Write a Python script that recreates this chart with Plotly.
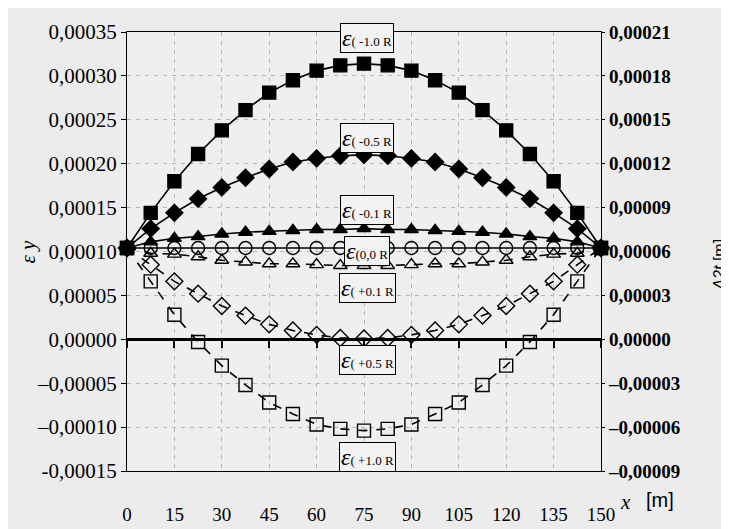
import plotly.graph_objects as go

# ---------------- data (strain values in units of 1e-5) ----------------
x_m = [0, 7.5, 15, 22.5, 30, 37.5, 45, 52.5, 60, 67.5, 75,
       82.5, 90, 97.5, 105, 112.5, 120, 127.5, 135, 142.5, 150]

eps_m10 = [10.4, 14.4, 18.0, 21.1, 23.8, 26.1, 28.1, 29.5, 30.6, 31.2, 31.4,
           31.2, 30.6, 29.5, 28.1, 26.1, 23.8, 21.1, 18.0, 14.4, 10.4]
eps_m05 = [10.4, 12.6, 14.4, 16.0, 17.3, 18.4, 19.4, 20.2, 20.6, 20.9, 21.0,
           20.9, 20.6, 20.2, 19.4, 18.4, 17.3, 16.0, 14.4, 12.6, 10.4]
eps_m01 = [10.4, 11.1, 11.5, 11.7, 12.0, 12.2, 12.3, 12.4, 12.5, 12.5, 12.6,
           12.5, 12.5, 12.4, 12.3, 12.2, 12.0, 11.7, 11.5, 11.1, 10.4]
eps_00 = [10.4, 10.4, 10.4, 10.4, 10.4, 10.4, 10.4, 10.4, 10.4, 10.4, 10.4,
          10.4, 10.4, 10.4, 10.4, 10.4, 10.4, 10.4, 10.4, 10.4, 10.4]
eps_p01 = [10.4, 9.8, 9.7, 9.4, 9.0, 8.8, 8.6, 8.6, 8.5, 8.4, 8.4,
           8.4, 8.5, 8.6, 8.6, 8.8, 9.0, 9.4, 9.7, 9.8, 10.4]
eps_p05 = [10.4, 8.5, 6.6, 5.2, 3.8, 2.7, 1.7, 1.0, 0.5, 0.15, 0.1,
           0.15, 0.5, 1.0, 1.7, 2.7, 3.8, 5.2, 6.6, 8.5, 10.4]
eps_p10 = [10.4, 6.6, 2.8, -0.3, -3.0, -5.2, -7.2, -8.5, -9.7, -10.2, -10.4,
           -10.2, -9.7, -8.5, -7.2, -5.2, -3.0, -0.3, 2.8, 6.6, 10.4]

series_names = ["( -1.0 R", "( -0.5 R", "( -0.1 R", "(0,0 R", "( +0.1 R", "( +0.5 R", "( +1.0 R"]
label_y = [34.3, 22.9, 14.7, 10.1, 5.9, -2.4, -13.4]   # label box centres (1e-5)
label_x = 76

x_ticks = [0, 15, 30, 45, 60, 75, 90, 105, 120, 135, 150]
x_ticktext = ["0", "15", "30", "45", "60", "75", "90", "105", "120", "135", "150"]

y_ticks = [-0.00015, -0.00010, -0.00005, 0.0, 0.00005, 0.00010, 0.00015, 0.00020, 0.00025, 0.00030, 0.00035]
y_ticktext = ["-0,00015", "\u20130,00010", "\u20130,00005", "0,00000", "0,00005", "0,00010",
              "0,00015", "0,00020", "0,00025", "0,00030", "0,00035"]

y2_ticks = [-0.00009, -0.00006, -0.00003, 0.0, 0.00003, 0.00006, 0.00009, 0.00012, 0.00015, 0.00018, 0.00021]
y2_ticktext = ["\u20130,00009", "\u20130,00006", "\u20130,00003", "0,00000", "0,00003", "0,00006",
               "0,00009", "0,00012", "0,00015", "0,00018", "0,00021"]

SCALE = 1e-5


def sc(v):
    return [a * SCALE for a in v]


fig = go.Figure()

BLACK = "black"
SERIF = "Liberation Serif"


def add(vals, symbol, dash, size, xaxis="x"):
    fig.add_trace(go.Scatter(
        x=x_m, y=sc(vals), mode="lines+markers", xaxis=xaxis, yaxis="y",
        line=dict(color=BLACK, width=1.6, dash=dash),
        marker=dict(symbol=symbol, size=size, color=BLACK, line=dict(color=BLACK, width=1.4)),
        showlegend=False, cliponaxis=False, hoverinfo="skip"))


# dashed series first
add(eps_p10, "square-open", "dash", 13)
add(eps_p05, "diamond-open", "dash", 13, xaxis="x2")
add(eps_p01, "triangle-up-open", "dash", 12)
add(eps_00, "circle-open", "solid", 13)
add(eps_m01, "triangle-up", "solid", 12)
add(eps_m05, "diamond", "solid", 13)
add(eps_m10, "square", "solid", 13)

# empty trace so that the right-hand (Delta 2t) axis is drawn
fig.add_trace(go.Scatter(x=[], y=[], xaxis="x", yaxis="y2", showlegend=False,
                         hoverinfo="skip"))

GRID = "#b5b5b5"

fig.update_layout(
    width=729, height=529,
    margin=dict(l=119, r=136, t=16, b=43),
    paper_bgcolor="#ececec", plot_bgcolor="#efefef",
    showlegend=False,
    xaxis=dict(range=[0, 150], tickvals=x_ticks, ticktext=x_ticktext,
               showline=True, mirror=True, linecolor=BLACK, linewidth=1.3,
               ticks="", showgrid=True, gridcolor=GRID, griddash="4px,5px", gridwidth=1,
               zeroline=False, ticklabelstandoff=26,
               tickfont=dict(family=SERIF, size=19, color=BLACK)),
    xaxis2=dict(range=[0, 150], tickvals=x_ticks, overlaying="x", anchor="free",
                position=0.3, showticklabels=False, ticks="outside", ticklen=7,
                tickwidth=2, tickcolor=BLACK, showline=True, linewidth=2.5,
                linecolor=BLACK, showgrid=False, zeroline=False),
    yaxis=dict(range=[-0.00015, 0.00035], tickvals=y_ticks, ticktext=y_ticktext,
               showline=True, linecolor=BLACK, linewidth=1.3, ticks="outside",
               ticklen=5, tickcolor=BLACK, showgrid=True, gridcolor=GRID,
               griddash="4px,5px", gridwidth=1, zeroline=False,
               tickfont=dict(family=SERIF, size=21, color=BLACK)),
    yaxis2=dict(range=[-0.00009, 0.00021], tickvals=y2_ticks, ticktext=y2_ticktext,
                overlaying="y", side="right", anchor="x", showline=True, linecolor=BLACK,
                linewidth=1.3, ticks="outside", ticklen=3, tickcolor=BLACK,
                showgrid=False, zeroline=False,
                tickfont=dict(family=SERIF, size=19, color=BLACK, weight="bold")),
)

for name, ly in zip(series_names, label_y):
    fig.add_annotation(
        x=label_x, y=ly * SCALE, xref="x", yref="y", showarrow=False,
        xanchor="center", yanchor="middle",
        text="<span style='font-size:24px'><i>\u03b5</i></span>" + name,
        font=dict(family=SERIF, size=13, color=BLACK),
        bgcolor="#f3f3f3", bordercolor=BLACK, borderwidth=1, borderpad=1)

# axis titles
fig.add_annotation(x=-0.209, y=0.50, xref="paper", yref="paper", showarrow=False,
                   xanchor="center", yanchor="middle",
                   text="<i>\u03b5 y</i>", textangle=-90,
                   font=dict(family=SERIF, size=21, color=BLACK))
fig.add_annotation(x=1.251, y=0.47, xref="paper", yref="paper", showarrow=False,
                   xanchor="center", yanchor="middle",
                   text="<i>\u03942t</i> [m]", textangle=-90,
                   font=dict(family="Liberation Sans", size=16, color=BLACK))
fig.add_annotation(x=1.052, y=-0.070, xref="paper", yref="paper", showarrow=False,
                   xanchor="center", yanchor="middle",
                   text="<i>x</i>", font=dict(family=SERIF, size=21, color=BLACK))
fig.add_annotation(x=1.124, y=-0.066, xref="paper", yref="paper", showarrow=False,
                   xanchor="center", yanchor="middle",
                   text="[m]", font=dict(family="Liberation Sans", size=20, color=BLACK))

fig.write_html("out.html")
